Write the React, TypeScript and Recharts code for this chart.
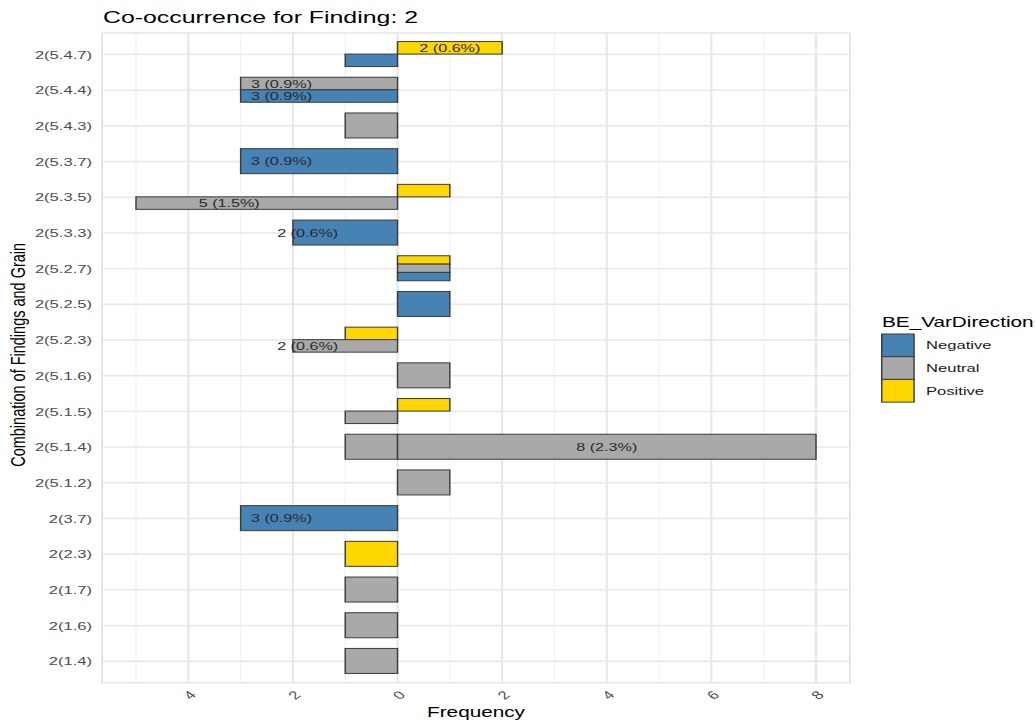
import React from 'react';
import { BarChart, Bar, XAxis, YAxis, CartesianGrid, Customized, Label } from 'recharts';

// Findings/grain combinations, top to bottom
const categories = [
  '2(5.4.7)', '2(5.4.4)', '2(5.4.3)', '2(5.3.7)', '2(5.3.5)', '2(5.3.3)',
  '2(5.2.7)', '2(5.2.5)', '2(5.2.3)', '2(5.1.6)', '2(5.1.5)', '2(5.1.4)',
  '2(5.1.2)', '2(3.7)', '2(2.3)', '2(1.7)', '2(1.6)', '2(1.4)',
];

// Order of the dodged bars inside one row, top to bottom
const dodgeOrder = ['Positive', 'Neutral', 'Negative'];
// Order of the legend keys
const legendOrder = ['Negative', 'Neutral', 'Positive'];

const directionColors: Record<string, string> = {
  Negative: '#4682B4',
  Neutral: '#A9A9A9',
  Positive: '#FFD700',
};

// [combination, frequency (negative = drawn to the left), share]
type Entry = [string, number, string?];

const negativeBars: Entry[] = [
  ['2(5.4.7)', -1],
  ['2(5.4.4)', -3, '0.9%'],
  ['2(5.3.7)', -3, '0.9%'],
  ['2(5.3.3)', -2, '0.6%'],
  ['2(5.2.7)', 1],
  ['2(5.2.5)', 1],
  ['2(3.7)', -3, '0.9%'],
];

const neutralBars: Entry[] = [
  ['2(5.4.4)', -3, '0.9%'],
  ['2(5.4.3)', -1],
  ['2(5.3.5)', -5, '1.5%'],
  ['2(5.2.7)', 1],
  ['2(5.2.3)', -2, '0.6%'],
  ['2(5.1.6)', 1],
  ['2(5.1.5)', -1],
  ['2(5.1.4)', -1],
  ['2(5.1.4)', 8, '2.3%'],
  ['2(5.1.2)', 1],
  ['2(1.7)', -1],
  ['2(1.6)', -1],
  ['2(1.4)', -1],
];

const positiveBars: Entry[] = [
  ['2(5.4.7)', 2, '0.6%'],
  ['2(5.3.5)', 1],
  ['2(5.2.7)', 1],
  ['2(5.2.3)', -1],
  ['2(5.1.5)', 1],
  ['2(2.3)', -1],
];

const frequencyTicks = [-4, -2, 0, 2, 4, 6, 8];
const minorTicks = [-5, -3, -1, 1, 3, 5, 7];
const frequencyDomain: [number, number] = [-5.65, 8.65];

const byDirection: Record<string, Entry[]> = {
  Negative: negativeBars,
  Neutral: neutralBars,
  Positive: positiveBars,
};

type Segment = { dir: string; value: number; share?: string; slot: number; slots: number };

const rows = categories.map((category) => {
  const present = dodgeOrder.filter((d) => byDirection[d].some((e) => e[0] === category));
  const segs: Segment[] = [];
  present.forEach((dir, slot) => {
    byDirection[dir]
      .filter((e) => e[0] === category)
      .forEach((e) => segs.push({ dir, value: e[1], share: e[2], slot, slots: present.length }));
  });
  const row: any = { category, segs };
  segs.forEach((s, k) => {
    row[`r${k}`] = [Math.min(0, s.value), Math.max(0, s.value)];
  });
  return row;
});

const FONT = '"Liberation Sans", Arial, Helvetica, sans-serif';
const STRETCH = 1.43;
const W = 724;
const H = 724;

const renderSegment = (k: number) => (props: any) => {
  const row = props.payload && props.payload.segs ? props.payload : rows[props.index];
  const seg: Segment | undefined = row && row.segs ? row.segs[k] : undefined;
  if (!seg) return <g />;
  let { x, y, width, height } = props;
  if (width < 0) {
    x += width;
    width = -width;
  }
  const h = height / seg.slots;
  const top = y + seg.slot * h;
  const cx = x + width / 2;
  const label = seg.share ? `${Math.abs(seg.value)} (${seg.share})` : null;
  return (
    <g>
      <rect
        x={x}
        y={top}
        width={width}
        height={h}
        fill={directionColors[seg.dir]}
        stroke="#3a3a3a"
        strokeWidth={1}
      />
      {label && (
        <text
          x={seg.value < 0 ? cx - 4.9 : cx}
          y={top + h / 2}
          textAnchor={seg.value < 0 ? 'end' : 'middle'}
          dominantBaseline="central"
          fontSize={11.3}
          fill="#2b2b2b"
          fontFamily={FONT}
        >
          {label}
        </text>
      )}
    </g>
  );
};

const FrequencyTick = (props: any) => {
  const { x, y, payload } = props;
  const tx = x + 1;
  const ty = y + 12.3;
  return (
    <text
      x={tx}
      y={ty}
      transform={`rotate(-45 ${tx} ${ty})`}
      textAnchor="middle"
      dominantBaseline="central"
      fontSize={11.6}
      fill="#4D4D4D"
      fontFamily={FONT}
    >
      {Math.abs(payload.value)}
    </text>
  );
};

const scaleOf = (axis: any) => (v: number) =>
  typeof axis.scale === 'function' ? axis.scale(v) : axis.scale.map(v);

const TitleAndLegend = () => (
  <g fontFamily={FONT}>
    <text x={72} y={22.7} fontSize={17.4} fill="#000">
      Co-occurrence for Finding: 2
    </text>
    <text x={616.8} y={327} fontSize={14.5} fill="#000">
      BE_VarDirection
    </text>
    {legendOrder.map((dir, i) => (
      <g key={dir}>
        <rect
          x={616.6}
          y={334 + i * 22.7}
          width={22.6}
          height={22.7}
          fill={directionColors[dir]}
          stroke="#3a3a3a"
          strokeWidth={1}
        />
        <text x={647.6} y={334 + i * 22.7 + 11.35} dominantBaseline="central" fontSize={11.6} fill="#1a1a1a">
          {dir}
        </text>
      </g>
    ))}
  </g>
);

export default function App() {
  return (
    <div
      style={{
        position: 'absolute',
        left: 0,
        top: 0,
        width: W,
        height: H,
        transform: `scaleX(${STRETCH})`,
        transformOrigin: '0 0',
        fontFamily: FONT,
        background: '#fff',
      }}
    >
      <BarChart
        width={W}
        height={H}
        data={rows}
        layout="vertical"
        margin={{ top: 33, right: 129.6, bottom: 11.3, left: 11.33 }}
        barSize={25}
        barGap={-25}
      >
        <CartesianGrid
          horizontal={false}
          vertical
          verticalCoordinatesGenerator={({ xAxis }: any) => minorTicks.map(scaleOf(xAxis))}
          stroke="#F1F1F1"
          strokeWidth={0.8}
        />
        <CartesianGrid stroke="#E6E6E6" strokeWidth={1.4} />
        <XAxis
          type="number"
          domain={frequencyDomain}
          allowDataOverflow
          ticks={frequencyTicks}
          interval={0}
          axisLine={false}
          tickLine={false}
          tickSize={0}
          tickMargin={0}
          height={30}
          tick={<FrequencyTick />}
        >
          <Label
            content={(p: any) => {
              const vb = p.viewBox || {};
              return (
                <text
                  x={vb.x + vb.width / 2}
                  y={vb.y + 34.3}
                  textAnchor="middle"
                  fontSize={14.5}
                  fill="#000"
                  fontFamily={FONT}
                >
                  Frequency
                </text>
              );
            }}
          />
        </XAxis>
        <YAxis
          type="category"
          dataKey="category"
          width={60}
          interval={0}
          axisLine={false}
          tickLine={false}
          tickSize={0}
          tickMargin={7}
          padding={{ top: 3.57, bottom: 3.57 }}
          tick={{ fontSize: 11.6, fill: '#4D4D4D', fontFamily: FONT }}
        >
          <Label
            content={(p: any) => {
              const vb = p.viewBox || {};
              const lx = vb.x + 6.2;
              const ly = vb.y + vb.height / 2 - 3;
              return (
                <text
                  x={lx}
                  y={ly}
                  transform={`rotate(-90 ${lx} ${ly})`}
                  textAnchor="middle"
                  fontSize={14.5}
                  fill="#000"
                  fontFamily={FONT}
                >
                  Combination of Findings and Grain
                </text>
              );
            }}
          />
        </YAxis>
        {[0, 1, 2].map((k) => (
          <Bar
            key={k}
            dataKey={`r${k}`}
            barSize={25}
            isAnimationActive={false}
            shape={renderSegment(k)}
          />
        ))}
        <Customized component={TitleAndLegend} />
      </BarChart>
    </div>
  );
}
